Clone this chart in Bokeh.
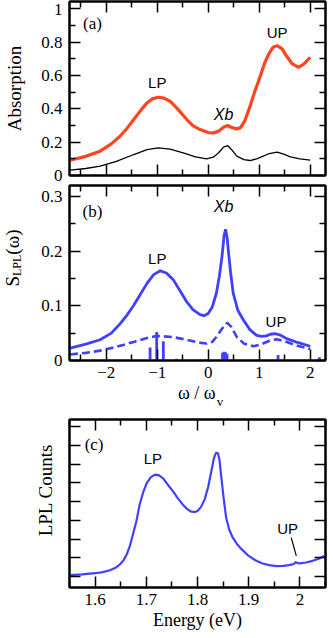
from bokeh.plotting import figure
from bokeh.models import Range1d, LinearAxis, FixedTicker, CustomJSTickFormatter, Label, Div
from bokeh.layouts import column, row
from bokeh.embed import file_html
from bokeh.resources import INLINE

# ---------------- Panel (a): absorption ----------------
a_w_red = [-2.71, -2.4, -2.12, -1.9, -1.73, -1.6, -1.46, -1.3, -1.2, -1.1, -0.98, -0.87, -0.75,
           -0.6, -0.42, -0.3, -0.16, 0.0, 0.1, 0.2, 0.3, 0.38, 0.45, 0.55, 0.63, 0.72, 0.82,
           0.92, 1.02, 1.1, 1.18, 1.27, 1.35, 1.45, 1.54, 1.65, 1.77, 1.88, 2.0]
a_red = [0.092, 0.115, 0.146, 0.19, 0.236, 0.28, 0.336, 0.40, 0.436, 0.46, 0.47, 0.465, 0.446,
         0.40, 0.336, 0.30, 0.276, 0.258, 0.256, 0.265, 0.29, 0.30, 0.29, 0.28, 0.286, 0.33, 0.416,
         0.51, 0.596, 0.67, 0.726, 0.77, 0.78, 0.76, 0.716, 0.67, 0.65, 0.67, 0.71]
a_w_blk = [-2.71, -2.4, -2.12, -1.8, -1.46, -1.2, -0.98, -0.75, -0.49, -0.25, -0.03, 0.1, 0.2,
           0.3, 0.38, 0.46, 0.56, 0.7, 0.82, 0.95, 1.08, 1.2, 1.35, 1.48, 1.61, 1.8, 2.0]
a_blk = [0.032, 0.042, 0.056, 0.085, 0.126, 0.155, 0.166, 0.158, 0.136, 0.112, 0.10, 0.11, 0.135,
         0.17, 0.18, 0.155, 0.116, 0.095, 0.09, 0.10, 0.116, 0.132, 0.14, 0.128, 0.112, 0.10, 0.092]
a_y_ticks = [0, 0.2, 0.4, 0.6, 0.8, 1.0]
a_y_minor = [0.1, 0.3, 0.5, 0.7, 0.9]

# ---------------- Panel (b): S_LPL ----------------
b_w_solid = [-2.71, -2.4, -2.12, -1.9, -1.73, -1.6, -1.46, -1.33, -1.2, -1.07, -0.94, -0.82, -0.68,
             -0.55, -0.42, -0.3, -0.16, -0.08, 0.0, 0.08, 0.16, 0.22, 0.27, 0.31, 0.34, 0.37, 0.4,
             0.44, 0.49, 0.58, 0.69, 0.82, 0.95, 1.05, 1.14, 1.22, 1.31, 1.4, 1.54, 1.75, 2.0]
b_solid = [0.0227, 0.03, 0.038, 0.05, 0.067, 0.082, 0.101, 0.121, 0.141, 0.157, 0.164, 0.16, 0.147,
           0.127, 0.107, 0.093, 0.084, 0.082, 0.086, 0.098, 0.123, 0.155, 0.19, 0.228, 0.24, 0.225, 0.196,
           0.16, 0.123, 0.092, 0.074, 0.056, 0.046, 0.044, 0.045, 0.048, 0.049, 0.047, 0.04, 0.033, 0.026]
b_w_dash = [-2.71, -2.4, -2.12, -1.8, -1.46, -1.2, -1.0, -0.7, -0.42, -0.2, -0.03, 0.08, 0.16,
            0.27, 0.37, 0.45, 0.56, 0.7, 0.89, 1.05, 1.2, 1.35, 1.5, 1.75, 2.0]
b_dash = [0.011, 0.014, 0.018, 0.025, 0.034, 0.041, 0.045, 0.043, 0.038, 0.033, 0.031, 0.034, 0.043,
          0.058, 0.069, 0.062, 0.043, 0.031, 0.026, 0.030, 0.036, 0.039, 0.035, 0.027, 0.021]
b_stick_w = [-1.14, -1.01, -0.88, -0.62, -0.15, -0.05, 0.28, 0.31, 0.34, 0.37, 0.95, 1.37, 2.18]
b_stick_h = [0.024, 0.052, 0.035, 0.003, 0.002, 0.002, 0.014, 0.016, 0.015, 0.012, 0.002, 0.010, 0.006]
b_x_ticks = [-2, -1, 0, 1, 2]
b_x_minor = [-2.5, -1.5, -0.5, 0.5, 1.5]
b_y_ticks = [0, 0.1, 0.2, 0.3]
b_y_minor = [0.05, 0.15, 0.25]

# ---------------- Panel (c): measured LPL ----------------
c_energy = [1.551, 1.575, 1.6, 1.615, 1.629, 1.64, 1.649, 1.656, 1.662, 1.668, 1.674, 1.681, 1.687,
            1.694, 1.701, 1.709, 1.717, 1.725, 1.733, 1.742, 1.752, 1.761, 1.771, 1.78, 1.788, 1.795,
            1.8, 1.807, 1.814, 1.821, 1.827, 1.832, 1.836, 1.84, 1.843, 1.846, 1.851, 1.856, 1.862,
            1.869, 1.877, 1.886, 1.9, 1.913, 1.927, 1.94, 1.954, 1.967, 1.979, 1.988, 1.992, 1.996,
            2.0, 2.012, 2.025, 2.037, 2.047]
c_counts = [0.09, 0.13, 0.19, 0.25, 0.35, 0.48, 0.67, 0.9, 1.2, 1.65, 2.26, 3.0, 3.85,
            4.5, 5.0, 5.3, 5.44, 5.4, 5.23, 4.9, 4.56, 4.2, 3.85, 3.6, 3.46, 3.45,
            3.5, 3.72, 4.12, 4.8, 5.62, 6.3, 6.6, 6.58, 6.2, 5.44, 4.2, 3.14, 2.5,
            2.08, 1.75, 1.47, 1.11, 0.88, 0.71, 0.62, 0.57, 0.58, 0.62, 0.68, 0.78, 0.72,
            0.71, 0.76, 0.85, 0.96, 1.11]
c_x_ticks = [1.6, 1.7, 1.8, 1.9, 2.0]
c_x_minor = [1.55, 1.65, 1.75, 1.85, 1.95, 2.05]
c_y_ticks = [0, 1, 2, 3, 4, 5, 6, 7, 8]
c_up_line_x = [1.983, 1.993]
c_up_line_y = [2.08, 1.11]

# annotation texts and anchors
a_notes = [("(a)", -2.27, 0.91, "serif"), ("LP", -1.0, 0.56, "sans"), ("Xb", 0.3, 0.366, "ital"), ("UP", 1.35, 0.86, "sans")]
b_notes = [("(b)", -2.27, 0.273, "serif"), ("LP", -1.0, 0.187, "sans"), ("Xb", 0.3, 0.282, "ital"), ("UP", 1.33, 0.071, "sans")]
c_notes = [("(c)", 1.598, 7.03, "serif"), ("LP", 1.713, 6.29, "sans"), ("UP", 1.976, 2.58, "sans")]

RED = "#ff4520"
BLUE = "#4040ff"
SERIF = "Liberation Serif"
SANS = "Liberation Sans"
LEFT = 69
RIGHT = 6

fmt_num = CustomJSTickFormatter(code="""
var s = Number(tick.toFixed(3)).toString();
return tick < 0 ? '\\u2212' + s.substring(1) : s;
""")
fmt_none = CustomJSTickFormatter(code="return '';")


def style_axis(ax, ticks, minor, show_labels, standoff=7):
    ax.ticker = FixedTicker(ticks=ticks, minor_ticks=minor)
    ax.major_tick_in = 11
    ax.major_tick_out = 0
    ax.minor_tick_in = 6
    ax.minor_tick_out = 0
    ax.axis_line_width = 2
    ax.axis_line_color = "black"
    ax.major_tick_line_width = 1.5
    ax.minor_tick_line_width = 1.5
    ax.major_tick_line_color = "black"
    ax.minor_tick_line_color = "black"
    ax.major_label_text_font = SERIF
    ax.major_label_text_color = "black"
    ax.major_label_text_font_size = "17px"
    ax.axis_label_text_font = SERIF
    ax.axis_label_text_font_style = "normal"
    ax.axis_label_text_font_size = "18px"
    ax.axis_label_text_color = "black"
    if show_labels:
        ax.major_label_standoff = standoff
        ax.formatter = fmt_num
    else:
        ax.major_label_standoff = 0
        ax.formatter = fmt_none


def make_fig(xr, yr, fh, top, bottom, left, xt, xm, yt, ym, xlab, ylab, xstand=7, ystand=7):
    p = figure(frame_width=256, frame_height=fh, x_range=Range1d(*xr), y_range=Range1d(*yr),
               output_backend="svg", toolbar_location=None,
               min_border_left=left, min_border_right=RIGHT, min_border_top=top, min_border_bottom=bottom)
    p.xgrid.visible = False
    p.ygrid.visible = False
    p.outline_line_color = "black"
    p.outline_line_width = 2
    p.background_fill_color = "white"
    p.border_fill_color = "white"
    bottom_ax = p.below[0]
    left_ax = p.left[0]
    style_axis(bottom_ax, xt, xm, xlab, xstand)
    style_axis(left_ax, yt, ym, ylab, ystand)
    top_ax = LinearAxis()
    style_axis(top_ax, xt, xm, False)
    p.add_layout(top_ax, "above")
    right_ax = LinearAxis()
    style_axis(right_ax, yt, ym, False)
    p.add_layout(right_ax, "right")
    return p, bottom_ax, left_ax


def add_notes(p, notes):
    for txt, x, y, kind in notes:
        if kind == "serif":
            font, style, size = SERIF, "normal", "17px"
        elif kind == "ital":
            font, style, size = SANS, "italic", "16px"
        else:
            font, style, size = SANS, "normal", "15px"
        p.add_layout(Label(x=x, y=y, text=txt, text_font=font, text_font_style=style,
                           text_font_size=size, text_align="center", text_baseline="middle",
                           text_color="black"))


def rotated_title(html, width, height, box_h, pad_left):
    # vertical title (reads bottom to top) centred in a box of box_h px at the top of the Div
    return Div(
        text=('<div style="box-sizing:border-box;width:%dpx;height:%dpx;padding-left:%dpx;display:flex;'
              'align-items:center;justify-content:center;">'
              '<div style="transform:rotate(-90deg);white-space:nowrap;font-family:\'Liberation Serif\';'
              'font-size:19px;line-height:19px;color:black;">%s</div></div>') % (width, box_h, pad_left, html),
        width=width, height=height, margin=0)


# ---- (a)
pa, pa_x, pa_y = make_fig((-2.72, 2.3), (0, 1.045), 174, 1, 9, LEFT, b_x_ticks, b_x_minor,
                          a_y_ticks, a_y_minor, False, True)
pa_y.axis_label = "Absorption"
pa_y.axis_label_text_font_size = "19px"
pa_y.axis_label_standoff = 13
pa.line(a_w_blk, a_blk, line_color="black", line_width=1.3)
pa.line(a_w_red, a_red, line_color=RED, line_width=3.2)
add_notes(pa, a_notes)

# ---- (b)
YLAB_W = 28
pb, pb_x, pb_y = make_fig((-2.72, 2.3), (0, 0.32), 175, 1, 26, LEFT - YLAB_W, b_x_ticks, b_x_minor,
                          b_y_ticks, b_y_minor, True, True, xstand=6)
pb.vbar(x=b_stick_w, top=b_stick_h, bottom=0, width=0.055, fill_color=BLUE, line_color=None)
pb.line(b_w_dash, b_dash, line_color=BLUE, line_width=2.6, line_dash="8 4")
pb.line(b_w_solid, b_solid, line_color=BLUE, line_width=2.8)
add_notes(pb, b_notes)

# y-axis title S_LPL(omega) with a real subscript (HTML text)
ylab_b = rotated_title('S<span style="font-size:12px;position:relative;top:2px;">LPL</span>(ω)',
                       YLAB_W, 202, 148, 0)

# x-axis title omega / omega_v with a real subscript (HTML text)
xlab_b = Div(
    text=('<div style="margin-left:178px;white-space:nowrap;font-family:\'Liberation Serif\';'
          'font-size:18px;line-height:14px;color:black;">ω / ω'
          '<span style="font-size:13px;position:relative;top:7px;margin-left:1px;">v</span></div>'),
    width=LEFT + 256 + RIGHT, height=21, margin=0)

# ---- (c)
CLAB_W = 56
pc, pc_x, pc_y = make_fig((1.55, 2.05), (-0.57, 8.37), 168, 12, 47, LEFT - CLAB_W, c_x_ticks, c_x_minor,
                          c_y_ticks, [], True, False, xstand=6)
pc_x.axis_label = "Energy (eV)"
pc_x.axis_label_standoff = 2
pc.line(c_energy, c_counts, line_color=BLUE, line_width=2.2)
pc.line(c_up_line_x, c_up_line_y, line_color="black", line_width=1.2)
add_notes(pc, c_notes)

ylab_c = rotated_title('LPL Counts', CLAB_W, 227, 166, 35)

layout = column(pa, row(ylab_b, pb), xlab_b, row(ylab_c, pc))
open("out.html", "w").write(file_html(layout, INLINE))
